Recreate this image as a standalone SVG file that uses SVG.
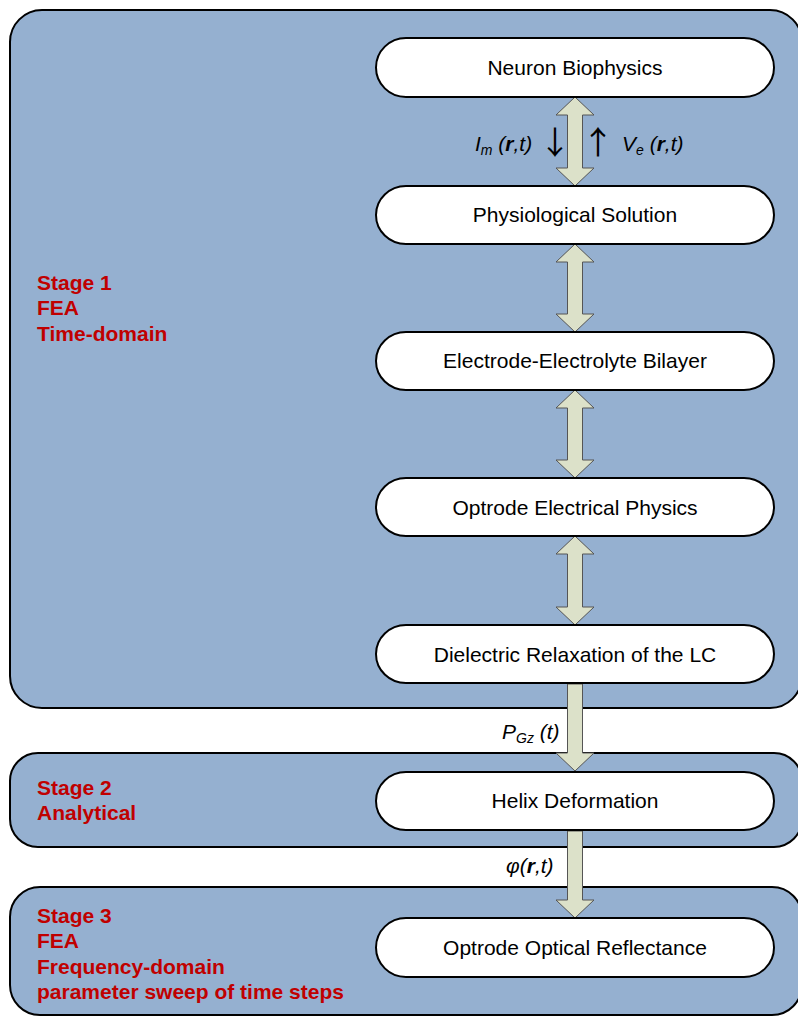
<svg xmlns="http://www.w3.org/2000/svg" width="798" height="1017" viewBox="0 0 798 1017">
<style>
.panel{fill:#95B0D0;stroke:#000;stroke-width:2}
.node rect{fill:#fff;stroke:#000;stroke-width:2}
.node text{font-family:"Liberation Sans",Arial,sans-serif;font-size:21px;fill:#000;text-anchor:middle}
.arr{fill:#DCE1C9;stroke:#555;stroke-width:1}
.stage{font-family:"Liberation Sans",Arial,sans-serif;font-size:21px;font-weight:bold;fill:#C00000}
.lab{font-family:"Liberation Sans",Arial,sans-serif;font-size:21px;font-style:italic;fill:#000}
.sub{font-size:14px}
.b{font-weight:bold}
.sym{font-family:"Noto Sans CJK JP","Noto Sans CJK SC",sans-serif;font-size:32px;fill:#000;text-anchor:middle}
</style>
<rect width="798" height="1017" fill="#fff"/>
<g id="panels">
<rect id="stage1" class="panel" x="10" y="10" width="792" height="698" rx="32"/>
<rect id="stage2" class="panel" x="10" y="753" width="792" height="94" rx="28"/>
<rect id="stage3" class="panel" x="10" y="887" width="792" height="128" rx="30"/>
</g>
<g id="stage-labels">
<text class="stage" x="37" y="290">Stage 1</text>
<text class="stage" x="37" y="315">FEA</text>
<text class="stage" x="37" y="341">Time-domain</text>
<text class="stage" x="37" y="795">Stage 2</text>
<text class="stage" x="37" y="820">Analytical</text>
<text class="stage" x="37" y="923">Stage 3</text>
<text class="stage" x="37" y="948">FEA</text>
<text class="stage" x="37" y="974">Frequency-domain</text>
<text class="stage" x="37" y="999">parameter sweep of time steps</text>
</g>
<g id="connectors">
<polygon class="arr" points="575,97 594,115 582.5,115 582.5,168 594,168 575,186 556,168 567.5,168 567.5,115 556,115"/>
<polygon class="arr" points="575,244 594,262 582.5,262 582.5,314 594,314 575,332 556,314 567.5,314 567.5,262 556,262"/>
<polygon class="arr" points="575,390 594,408 582.5,408 582.5,460 594,460 575,478 556,460 567.5,460 567.5,408 556,408"/>
<polygon class="arr" points="575,536 594,554 582.5,554 582.5,607 594,607 575,625 556,607 567.5,607 567.5,554 556,554"/>
<polygon class="arr" points="567.5,684 582.5,684 582.5,753 594,753 575,771 556,753 567.5,753"/>
<polygon class="arr" points="567.5,831 582.5,831 582.5,900 594,900 575,918 556,900 567.5,900"/>
<text class="lab" x="475" y="151">I<tspan class="sub" dy="4">m</tspan><tspan dy="-4"> (</tspan><tspan class="b">r</tspan>,t)</text>
<text class="sym" x="555" y="154">↓</text>
<text class="sym" x="598" y="154">↑</text>
<text class="lab" x="622" y="151">V<tspan class="sub" dy="4">e</tspan><tspan dy="-4"> (</tspan><tspan class="b">r</tspan>,t)</text>
<text class="lab" x="502" y="739">P<tspan class="sub" dy="4">Gz</tspan><tspan dy="-4"> (t)</tspan></text>
<text class="lab" x="506" y="873">φ(<tspan class="b">r</tspan>,t)</text>
</g>
<g id="n1" class="node"><rect x="376" y="38" width="398" height="59" rx="30"/><text x="575" y="75">Neuron Biophysics</text></g>
<g id="n2" class="node"><rect x="376" y="186" width="398" height="58" rx="30"/><text x="575" y="222">Physiological Solution</text></g>
<g id="n3" class="node"><rect x="376" y="332" width="398" height="58" rx="30"/><text x="575" y="368">Electrode-Electrolyte Bilayer</text></g>
<g id="n4" class="node"><rect x="376" y="478" width="398" height="58" rx="30"/><text x="575" y="515">Optrode Electrical Physics</text></g>
<g id="n5" class="node"><rect x="376" y="625" width="398" height="58" rx="30"/><text x="575" y="662">Dielectric Relaxation of the LC</text></g>
<g id="n6" class="node"><rect x="376" y="772" width="398" height="58" rx="30"/><text x="575" y="808">Helix Deformation</text></g>
<g id="n7" class="node"><rect x="376" y="918" width="398" height="59" rx="30"/><text x="575" y="955">Optrode Optical Reflectance</text></g>
</svg>
